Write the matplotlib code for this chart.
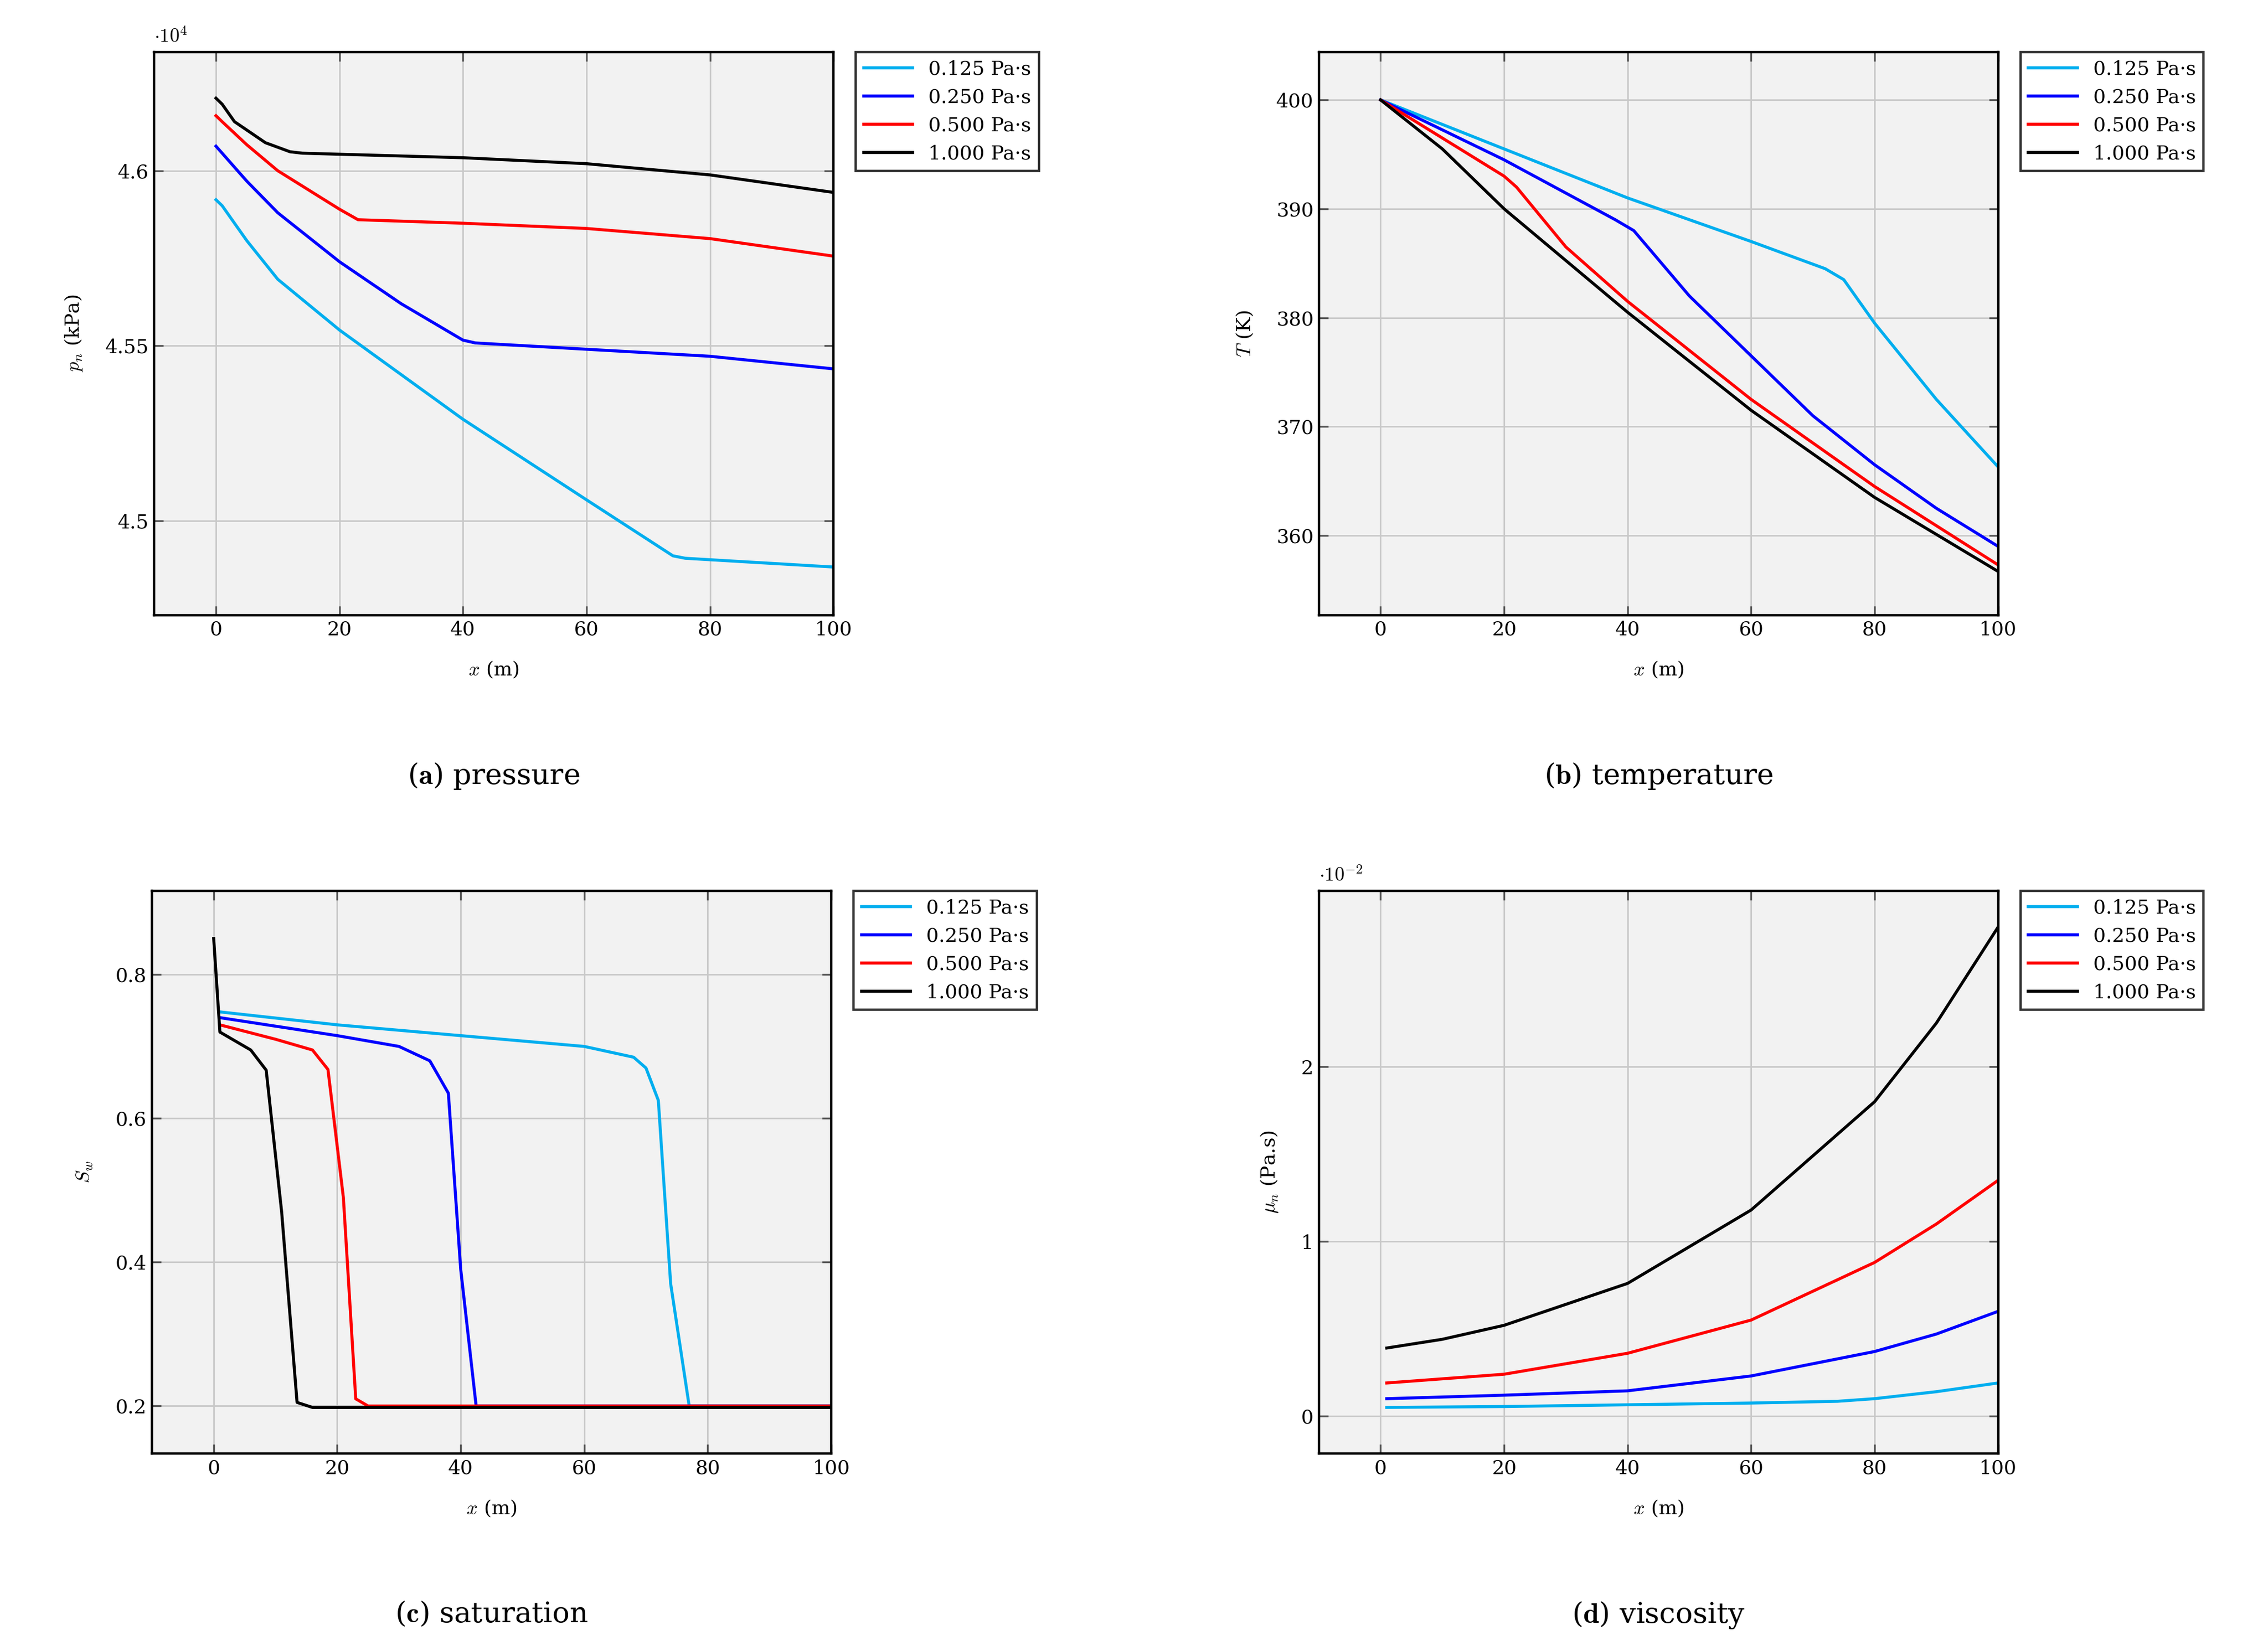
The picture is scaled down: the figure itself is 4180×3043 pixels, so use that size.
import matplotlib
matplotlib.use("Agg")
import matplotlib.pyplot as plt

plt.rcParams.update({"font.family": "serif", "font.serif": ["DejaVu Serif"],
                     "mathtext.fontset": "cm", "font.size": 13})

labels = ["0.125 Pa·s", "0.250 Pa·s", "0.500 Pa·s", "1.000 Pa·s"]
colors = ["#00aeef", "#0000ff", "#ff0000", "#000000"]

# pressure (x1e4 kPa)
p_x = [[0, 1, 5, 10, 20, 40, 60, 74, 76, 100],
       [0, 1, 5, 10, 20, 30, 40, 42, 60, 80, 100],
       [0, 1, 5, 10, 20, 23, 40, 60, 80, 100],
       [0, 1, 3, 8, 12, 14, 40, 60, 80, 100]]
p_y = [[4.5917, 4.590, 4.580, 4.569, 4.5545, 4.529, 4.506, 4.4900, 4.4893, 4.4868],
       [4.607, 4.605, 4.597, 4.588, 4.574, 4.562, 4.5516, 4.5508, 4.549, 4.547, 4.5434],
       [4.6157, 4.614, 4.6074, 4.600, 4.589, 4.586, 4.585, 4.5835, 4.5806, 4.5756],
       [4.6207, 4.619, 4.614, 4.608, 4.6054, 4.605, 4.6037, 4.602, 4.5988, 4.5938]]

# temperature (K)
t_x = [[0, 20, 40, 60, 72, 75, 80, 90, 100],
       [0, 20, 38, 41, 50, 60, 70, 80, 90, 100],
       [0, 10, 20, 22, 30, 40, 60, 80, 100],
       [0, 10, 20, 40, 60, 80, 100]]
t_y = [[400, 395.5, 391, 387, 384.5, 383.5, 379.5, 372.5, 366.3],
       [400, 394.5, 389, 388, 382, 376.5, 371, 366.5, 362.5, 359],
       [400, 396.5, 393, 392, 386.5, 381.5, 372.5, 364.5, 357.3],
       [400, 395.5, 390, 380.5, 371.5, 363.5, 356.7]]

# saturation
s_x = [[1, 20, 40, 60, 68, 70, 72, 74, 77, 100],
       [1, 20, 30, 35, 38, 40, 42.5, 100],
       [1, 10, 16, 18.5, 21, 23, 25, 100],
       [0, 1, 6, 8.5, 11, 13.5, 16, 100]]
s_y = [[0.748, 0.73, 0.715, 0.70, 0.685, 0.67, 0.625, 0.37, 0.2, 0.2],
       [0.74, 0.715, 0.70, 0.68, 0.635, 0.39, 0.2, 0.2],
       [0.73, 0.71, 0.695, 0.668, 0.49, 0.21, 0.2, 0.2],
       [0.85, 0.72, 0.695, 0.667, 0.47, 0.205, 0.198, 0.198]]

# viscosity (x1e-2 Pa.s)
v_x = [[1, 20, 40, 60, 74, 80, 90, 100],
       [1, 20, 40, 60, 80, 90, 100],
       [1, 20, 40, 60, 80, 90, 100],
       [1, 10, 20, 40, 60, 80, 90, 100]]
v_y = [[0.05, 0.055, 0.065, 0.075, 0.085, 0.1, 0.14, 0.19],
       [0.1, 0.12, 0.145, 0.23, 0.37, 0.47, 0.6],
       [0.19, 0.24, 0.36, 0.55, 0.88, 1.1, 1.35],
       [0.39, 0.44, 0.52, 0.76, 1.18, 1.8, 2.25, 2.8]]

fig = plt.figure(figsize=(20.9, 15.215), dpi=200)
W, H = 0.2995, 0.341
pos = [(0.068, 0.6275), (0.5815, 0.6275), (0.067, 0.1195), (0.5815, 0.1195)]
panels = [
    (p_x, p_y, (4.4731, 4.6339), [4.5, 4.55, 4.6], ["4.5", "4.55", "4.6"], r"$p_n$ (kPa)", r"$\cdot10^{4}$", "a", "pressure"),
    (t_x, t_y, (352.7, 404.4), [360, 370, 380, 390, 400], None, r"$T$ (K)", None, "b", "temperature"),
    (s_x, s_y, (0.1337, 0.9165), [0.2, 0.4, 0.6, 0.8], None, r"$S_w$", None, "c", "saturation"),
    (v_x, v_y, (-0.215, 3.008), [0, 1, 2], None, r"$\mu_n$ (Pa.s)", r"$\cdot10^{-2}$", "d", "viscosity"),
]
for (l, b), (xs, ys, yl, yt, ytl, ylab, mult, letter, cap) in zip(pos, panels):
    ax = fig.add_axes([l, b, W, H])
    ax.set_facecolor("#f2f2f2")
    for x, y, c, lab in zip(xs, ys, colors, labels):
        ax.plot(x, y, color=c, lw=2, label=lab)
    ax.set_xlim(-10, 100)
    ax.set_ylim(*yl)
    ax.set_xticks([0, 20, 40, 60, 80, 100])
    ax.set_yticks(yt)
    if ytl:
        ax.set_yticklabels(ytl)
    ax.grid(True, color="#c8c8c8", lw=1)
    ax.tick_params(direction="in", top=True, right=True, length=6, width=1.2, color="#555555", labelsize=13)
    for s in ax.spines.values():
        s.set_linewidth(1.6)
    ax.set_xlabel(r"$x$ (m)", labelpad=14)
    ax.set_ylabel(ylab, labelpad=14)
    if mult:
        ax.text(0.0, 1.01, mult, transform=ax.transAxes, fontsize=13, va="bottom")
    leg = ax.legend(loc="upper left", bbox_to_anchor=(1.033, 1.0), fancybox=False,
                    edgecolor="black", fontsize=13, borderaxespad=0, handlelength=2.5)
    leg.get_frame().set_linewidth(1.6)
    ax.text(0.5, -0.26, r"(" + r"$\mathbf{" + letter + r"}$" + ") " + cap, transform=ax.transAxes,
            ha="center", va="top", fontsize=19)

fig.savefig("out.png", dpi=200)
